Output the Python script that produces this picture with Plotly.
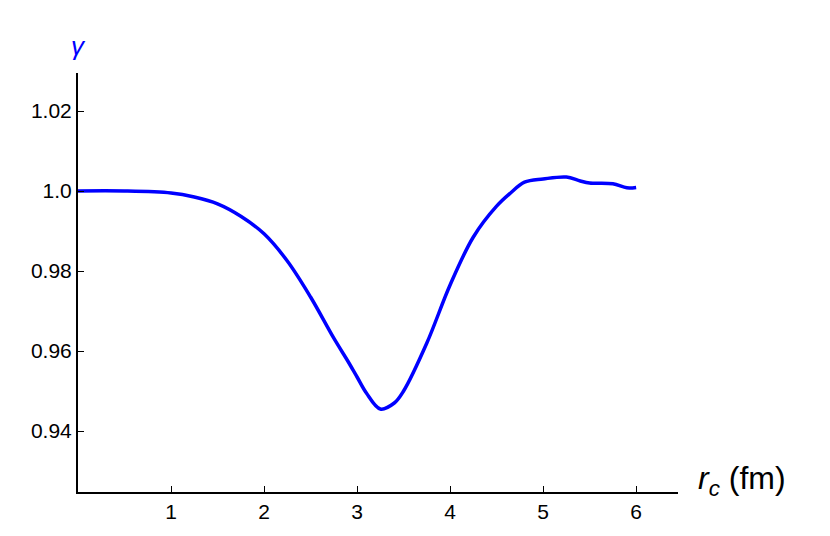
import plotly.graph_objects as go

# values
rc = [0.0, 0.5, 1.0, 1.25, 1.5, 1.75, 2.0, 2.25, 2.5, 2.75, 2.9, 3.0, 3.1, 3.25, 3.4, 3.5,
      3.75, 4.0, 4.25, 4.5, 4.65, 4.8, 5.0, 5.25, 5.4, 5.5, 5.75, 5.9, 6.0]
gamma = [1.0, 1.0, 0.9995, 0.9985, 0.9968, 0.9937, 0.9893, 0.9825, 0.9735, 0.9632, 0.9575,
         0.9535, 0.9495, 0.9455, 0.9470, 0.9500, 0.9620, 0.9765, 0.9885, 0.9962, 0.9995,
         1.0022, 1.0030, 1.0035, 1.0025, 1.0020, 1.0018, 1.0008, 1.0009]

x_ticks = [1, 2, 3, 4, 5, 6]
y_ticks = [0.94, 0.96, 0.98, 1.0, 1.02]
y_labels = ["0.94", "0.96", "0.98", "1.0", "1.02"]

fig = go.Figure(go.Scatter(x=rc, y=gamma, mode="lines",
                           line=dict(color="#0000ff", width=3.5, shape="spline", smoothing=1.0)))

fig.update_layout(
    width=830, height=536,
    paper_bgcolor="white", plot_bgcolor="white",
    margin=dict(l=70, r=160, t=65, b=52),
    showlegend=False,
    font=dict(family="Liberation Sans, Arial, sans-serif", size=20, color="black"),
    annotations=[
        dict(x=0, y=1, xref="paper", yref="paper", xanchor="center", yanchor="bottom",
             text="<i>γ</i>", showarrow=False, font=dict(size=26, color="#0000ff"), yshift=10),
        dict(x=1, y=0, xref="paper", yref="paper", xanchor="left", yanchor="middle",
             text="<i>r<sub>c</sub></i> (fm)", showarrow=False, font=dict(size=32), xshift=18, yshift=12),
    ],
)
fig.update_xaxes(range=[0, 6.45], tickvals=x_ticks, showgrid=False, zeroline=False, automargin=False,
                 showline=True, linecolor="black", linewidth=2, ticks="inside", ticklen=6,
                 tickcolor="black", tickfont=dict(size=21))
fig.update_yaxes(range=[0.92475, 1.0295], tickvals=y_ticks, ticktext=y_labels, showgrid=False,
                 zeroline=False, showline=True, linecolor="black", linewidth=2, automargin=False,
                 ticks="inside", ticklen=6, tickcolor="black", tickfont=dict(size=21))

fig.write_html("out.html")
